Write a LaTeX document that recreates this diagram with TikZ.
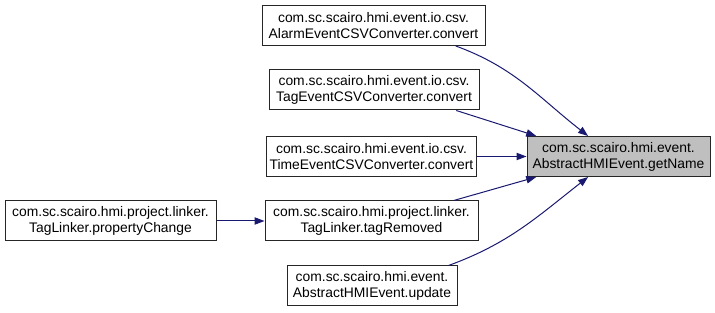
\documentclass[tikz,border=0pt]{standalone}
\usepackage{fontspec}
\setmainfont{Liberation Sans}
\usetikzlibrary{arrows.meta}
\definecolor{edgeblue}{HTML}{191970}
\tikzset{
 fn/.style={draw=black!85,line width=0.75pt,fill=white,align=center,inner sep=2pt,minimum height=30pt,font=\fontsize{10.4}{12}\selectfont},
 call/.style={draw=edgeblue,line width=0.75pt,-{Triangle[length=7.5pt,width=5.5pt]}}
}
\begin{document}
\begin{tikzpicture}[x=0.75pt,y=-0.75pt]
\useasboundingbox (0,0) rectangle (715,313);
% the function and its callers
\node[fn,fill=black!25,minimum width=137.25pt] (getname) at (618.5,156.5) {com.sc.scairo.hmi.event.\\AbstractHMIEvent.getName};
\node[fn,minimum width=167.25pt] (alarmconv) at (373.5,25.5) {com.sc.scairo.hmi.event.io.csv.\\AlarmEventCSVConverter.convert};
\node[fn,minimum width=157.5pt] (tagconv) at (374,90) {com.sc.scairo.hmi.event.io.csv.\\TagEventCSVConverter.convert};
\node[fn,minimum width=156.75pt] (timeconv) at (371.5,156.5) {com.sc.scairo.hmi.event.io.csv.\\TimeEventCSVConverter.convert};
\node[fn,minimum width=159.75pt] (tagremoved) at (371.5,221) {com.sc.scairo.hmi.project.linker.\\TagLinker.tagRemoved};
\node[fn,minimum width=127.5pt] (update) at (372,286) {com.sc.scairo.hmi.event.\\AbstractHMIEvent.update};
\node[fn,minimum width=158.25pt] (propchange) at (110.5,221) {com.sc.scairo.hmi.project.linker.\\TagLinker.propertyChange};

% call edges
\draw[call] (alarmconv.-14) to[out=-20,in=142] (getname.146);
\draw[call] (tagconv.-14) -- (getname.166);
\draw[call] (timeconv) -- (getname);
\draw[call] (tagremoved.14) -- (getname.-166);
\draw[call] (update.15) to[out=20,in=-142] (getname.-146);
\draw[call] (propchange) -- (tagremoved);
\end{tikzpicture}
\end{document}
